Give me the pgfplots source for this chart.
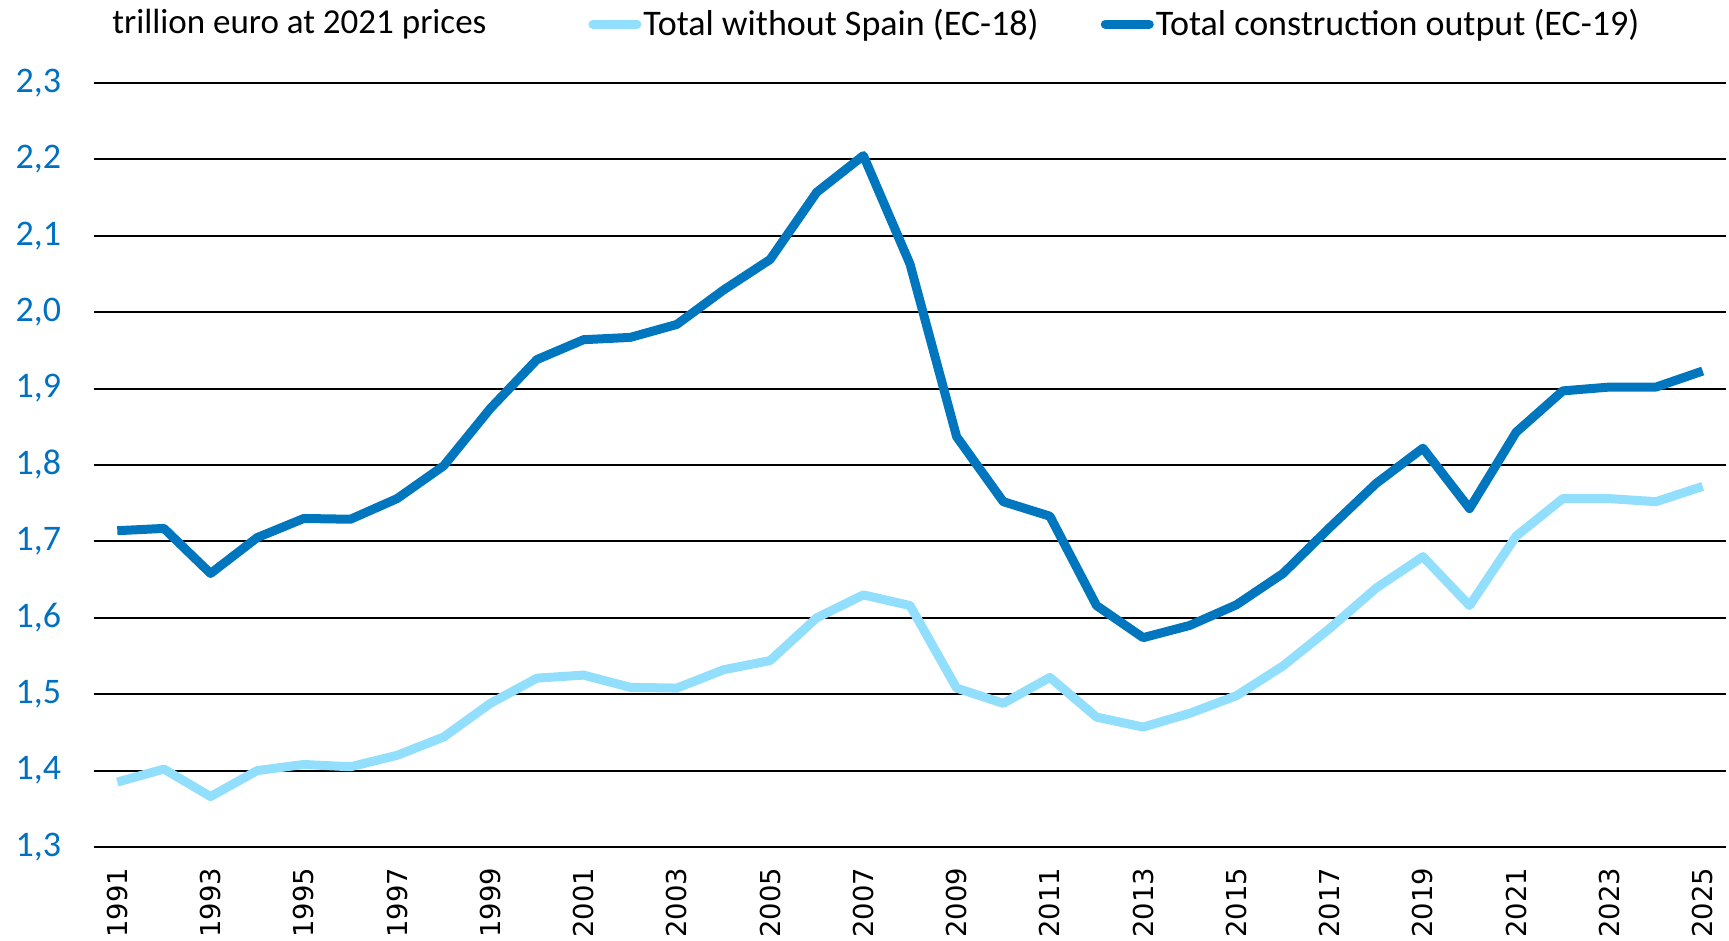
\documentclass[border=0pt]{standalone}
\usepackage{pgfplots}
\pgfplotsset{compat=1.18}
\usepackage{fontspec}
\setmainfont{Carlito}
\newfontfamily\ticksfont{DejaVu Sans}
\definecolor{darkblue}{RGB}{0,118,190}
\definecolor{lightblue}{RGB}{146,222,253}
\definecolor{ticklabelblue}{RGB}{0,112,192}

\pgfplotstableread{
year total
1991 1.714
1992 1.717
1993 1.658
1994 1.705
1995 1.730
1996 1.729
1997 1.756
1998 1.799
1999 1.874
2000 1.938
2001 1.964
2002 1.967
2003 1.984
2004 2.029
2005 2.069
2006 2.157
2007 2.205
2008 2.063
2009 1.837
2010 1.752
2011 1.733
2012 1.616
2013 1.574
2014 1.590
2015 1.617
2016 1.658
2017 1.718
2018 1.776
2019 1.822
2020 1.743
2021 1.843
2022 1.897
2023 1.902
2024 1.902
2025 1.923
}\totaltable

\pgfplotstableread{
year nospain
1991 1.385
1992 1.402
1993 1.366
1994 1.400
1995 1.408
1996 1.405
1997 1.420
1998 1.444
1999 1.488
2000 1.521
2001 1.525
2002 1.509
2003 1.508
2004 1.532
2005 1.544
2006 1.600
2007 1.630
2008 1.616
2009 1.508
2010 1.488
2011 1.522
2012 1.470
2013 1.457
2014 1.475
2015 1.498
2016 1.537
2017 1.586
2018 1.639
2019 1.680
2020 1.616
2021 1.707
2022 1.756
2023 1.756
2024 1.752
2025 1.772
}\nospaintable

\begin{document}
\begin{tikzpicture}
\useasboundingbox (-47pt,-47pt) rectangle (817.5pt,423.5pt);
\begin{axis}[
  scale only axis,
  width=816pt, height=382pt,
  xmin=1990.5, xmax=2025.5,
  ymin=1.3, ymax=2.3,
  axis x line*=bottom,
  axis y line*=left,
  y axis line style={draw=none},
  x axis line style={line width=1.2pt, black},
  ytick={1.3,1.4,1.5,1.6,1.7,1.8,1.9,2.0,2.1,2.2,2.3},
  yticklabels={{1,3},{1,4},{1,5},{1,6},{1,7},{1,8},{1,9},{2,0},{2,1},{2,2},{2,3}},
  ytick style={draw=none},
  yticklabel style={font=\fontsize{18}{20}\selectfont, text=ticklabelblue, anchor=east, inner sep=0pt},
  yticklabel shift=12pt,
  ymajorgrids,
  major grid style={black, line width=1pt},
  xtick={1991,1993,...,2025},
  xticklabels={1991,1993,1995,1997,1999,2001,2003,2005,2007,2009,2011,2013,2015,2017,2019,2021,2023,2025},
  xtick style={draw=none},
  minor xtick={1990.5,1991.5,...,2025.5},
  minor tick length=5pt,
  tick align=outside,
  minor x tick style={black, line width=0.8pt},
  xticklabel style={font=\ticksfont\fontsize{13.7}{15}\selectfont, rotate=90, anchor=east, inner sep=0pt},
  xticklabel shift=6pt,
  clip=false,
  legend columns=2,
  legend style={at={(axis description cs:0.3027,1.077)}, anchor=west, draw=none, fill=none, inner sep=0pt,
    font=\fontsize{18}{20}\selectfont, nodes={inner sep=1pt},
    /tikz/every even column/.append style={column sep=30pt}},
  legend cell align=left,
  legend image code/.code={\draw[#1, line width=4.5pt, line cap=round] (2pt,0pt) -- (24pt,0pt);},
]
\addplot[lightblue, line width=4.5pt, line join=round] table[x=year, y=nospain] {\nospaintable};
\addlegendentry{Total without Spain (EC-18)}
\addplot[darkblue, line width=4.5pt, line join=round] table[x=year, y=total] {\totaltable};
\addlegendentry{Total construction output (EC-19)}
\node[anchor=west, font=\fontsize{17.5}{20}\selectfont, inner sep=0pt] at ([xshift=9pt,yshift=29.5pt]rel axis cs:0,1) {trillion euro at 2021 prices};
\end{axis}
\end{tikzpicture}
\end{document}
